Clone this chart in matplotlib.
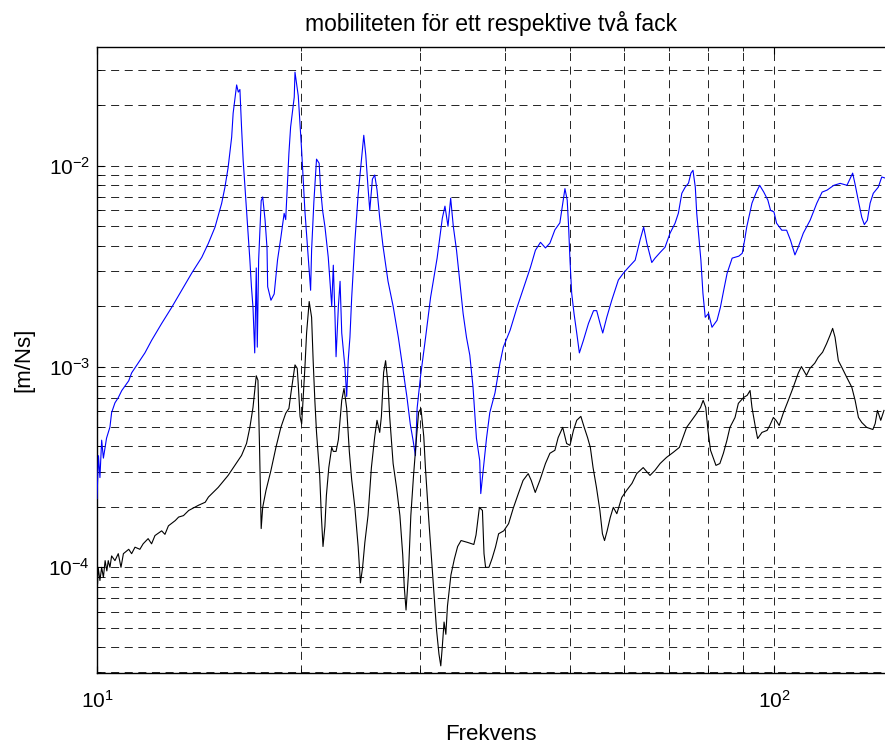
import matplotlib
matplotlib.use("Agg")
import matplotlib.pyplot as plt

plt.rcParams["font.family"] = ["Liberation Sans", "DejaVu Sans"]
plt.rcParams["axes.unicode_minus"] = False
plt.rcParams["lines.scale_dashes"] = False

# mobility, one compartment (blue) -- frequency [Hz], mobility [m/Ns]
freq_blue = [
    10.0, 10.05, 10.1, 10.16, 10.22, 10.33, 10.45, 10.51, 10.63, 10.75,
    10.88, 11.14, 11.25, 11.5, 11.77, 12.04, 12.46, 12.89, 13.34, 13.8,
    14.28, 14.6, 14.94, 15.28, 15.45, 15.62, 15.71, 15.81, 15.89, 16.08,
    16.17, 16.26, 16.35, 16.44, 16.63, 16.72, 16.82, 16.91, 17.0, 17.1,
    17.19, 17.25, 17.33, 17.48, 17.57, 17.71, 17.83, 17.87, 18.07, 18.27,
    18.48, 18.69, 18.9, 19.0, 19.1, 19.21, 19.32, 19.56, 19.61, 19.83,
    20.06, 20.28, 20.51, 20.68, 20.75, 20.91, 21.1, 21.29, 21.4, 21.54,
    21.71, 21.96, 22.09, 22.22, 22.34, 22.47, 22.55, 22.73, 22.86, 22.99,
    23.25, 23.38, 23.5, 23.64, 23.78, 24.04, 24.31, 24.59, 24.78, 24.95,
    25.14, 25.29, 25.52, 25.72, 25.92, 26.16, 26.45, 26.91, 27.38, 27.87,
    28.35, 28.69, 29.03, 29.3, 29.54, 29.71, 30.05, 30.58, 31.1, 31.8,
    32.37, 32.66, 33.0, 33.3, 33.6, 33.97, 34.35, 34.74, 35.14, 35.54,
    35.93, 36.35, 36.76, 36.89, 37.18, 37.62, 38.04, 38.72, 39.38, 39.83,
    40.77, 41.73, 42.69, 43.68, 44.43, 45.2, 45.97, 46.67, 47.47, 48.28,
    48.83, 49.12, 49.5, 49.74, 49.97, 50.26, 50.66, 51.13, 51.59, 52.3,
    53.21, 54.14, 54.72, 55.35, 55.86, 56.63, 57.6, 58.91, 59.92, 60.96,
    62.37, 63.45, 64.2, 64.9, 66.0, 66.74, 67.88, 69.04, 70.23, 71.44,
    72.25, 73.1, 73.94, 74.78, 75.4, 75.93, 76.53, 76.9, 77.37, 78.0,
    78.54, 79.16, 80.06, 81.0, 82.4, 83.34, 84.29, 85.28, 86.75, 88.74,
    89.78, 90.5, 91.15, 92.8, 94.2, 95.27, 96.6, 97.95, 98.86, 100.0,
    100.9, 102.7, 104.4, 105.8, 107.4, 108.6, 110.5, 113.1, 115.7, 117.8,
    119.8, 122.6, 125.3, 128.2, 130.7, 131.7, 133.2, 134.8, 136.0, 137.4,
    138.7, 140.2, 142.6, 144.3, 145.9,
]
mob_blue = [
    2.2e-4, 3.6e-4, 2.8e-4, 4.3e-4, 3.5e-4, 4.4e-4, 5.0e-4, 5.9e-4, 6.6e-4, 7.0e-4,
    7.6e-4, 8.5e-4, 9.3e-4, 1.04e-3, 1.17e-3, 1.35e-3, 1.64e-3, 1.97e-3, 2.4e-3, 2.92e-3,
    3.5e-3, 4.1e-3, 4.95e-3, 6.5e-3, 7.8e-3, 9.8e-3, 1.16e-2, 1.39e-2, 1.83e-2, 2.53e-2,
    2.33e-2, 2.4e-2, 1.56e-2, 1.07e-2, 6.0e-3, 4.6e-3, 3.4e-3, 2.5e-3, 1.97e-3, 1.17e-3,
    3.1e-3, 1.25e-3, 3.4e-3, 6.7e-3, 7.0e-3, 5.4e-3, 3.9e-3, 2.5e-3, 2.14e-3, 2.3e-3,
    3.4e-3, 4.4e-3, 5.8e-3, 5.4e-3, 7.8e-3, 1.16e-2, 1.56e-2, 2.2e-2, 2.93e-2, 2.23e-2,
    1.19e-2, 6.0e-3, 3.5e-3, 2.4e-3, 3.8e-3, 6.6e-3, 1.08e-2, 1.03e-2, 7.6e-3, 6.0e-3,
    5.0e-3, 3.5e-3, 2.66e-3, 2.0e-3, 3.2e-3, 1.76e-3, 1.12e-3, 2.0e-3, 2.66e-3, 1.47e-3,
    9.8e-4, 7.1e-4, 1.07e-3, 1.4e-3, 2.2e-3, 4.2e-3, 7.2e-3, 1.08e-2, 1.42e-2, 1.13e-2,
    7.8e-3, 6.0e-3, 8.6e-3, 9.0e-3, 7.6e-3, 5.5e-3, 4.0e-3, 2.66e-3, 2.0e-3, 1.4e-3,
    9.4e-4, 7.1e-4, 5.15e-4, 4.3e-4, 3.6e-4, 6.2e-4, 8.9e-4, 1.4e-3, 2.21e-3, 3.47e-3,
    5.49e-3, 6.3e-3, 5.0e-3, 6.9e-3, 5.0e-3, 3.8e-3, 2.66e-3, 1.84e-3, 1.4e-3, 1.14e-3,
    7.9e-4, 4.4e-4, 3.4e-4, 2.33e-4, 3.0e-4, 4.4e-4, 5.9e-4, 7.4e-4, 1.04e-3, 1.25e-3,
    1.52e-3, 1.97e-3, 2.48e-3, 3.12e-3, 3.8e-3, 4.16e-3, 3.9e-3, 4.12e-3, 4.8e-3, 5.2e-3,
    6.75e-3, 7.7e-3, 6.75e-3, 4.95e-3, 3.39e-3, 2.32e-3, 1.84e-3, 1.47e-3, 1.17e-3, 1.35e-3,
    1.64e-3, 1.9e-3, 1.9e-3, 1.64e-3, 1.47e-3, 1.76e-3, 2.14e-3, 2.7e-3, 2.92e-3, 3.12e-3,
    3.39e-3, 4.3e-3, 4.95e-3, 4.12e-3, 3.3e-3, 3.47e-3, 3.7e-3, 3.93e-3, 4.62e-3, 5.18e-3,
    5.81e-3, 7.3e-3, 7.83e-3, 8.2e-3, 9.2e-3, 9.5e-3, 7.83e-3, 5.81e-3, 4.62e-3, 3.39e-3,
    2.32e-3, 1.76e-3, 1.84e-3, 1.57e-3, 1.7e-3, 1.97e-3, 2.4e-3, 2.92e-3, 3.47e-3, 3.55e-3,
    3.67e-3, 4.26e-3, 4.95e-3, 6.52e-3, 7.4e-3, 8.0e-3, 7.4e-3, 6.75e-3, 6.0e-3, 5.9e-3,
    5.18e-3, 4.78e-3, 4.78e-3, 4.26e-3, 3.6e-3, 3.93e-3, 4.62e-3, 5.36e-3, 6.52e-3, 7.4e-3,
    7.57e-3, 8.0e-3, 8.18e-3, 8.0e-3, 9.2e-3, 8.18e-3, 6.75e-3, 5.55e-3, 5.1e-3, 5.36e-3,
    6.52e-3, 7.3e-3, 7.83e-3, 8.8e-3, 8.7e-3,
]

# mobility, two compartments (black)
freq_black = [
    10.02, 10.04, 10.1, 10.16, 10.22, 10.28, 10.34, 10.39, 10.45, 10.51,
    10.63, 10.75, 10.85, 10.94, 11.14, 11.25, 11.38, 11.57, 11.7, 11.9,
    12.04, 12.18, 12.46, 12.6, 12.75, 13.05, 13.2, 13.42, 13.66, 14.13,
    14.45, 14.61, 15.1, 15.62, 15.98, 16.35, 16.63, 16.82, 17.0, 17.1,
    17.19, 17.29, 17.38, 17.48, 17.57, 17.77, 18.07, 18.38, 18.69, 19.0,
    19.21, 19.34, 19.61, 19.76, 19.83, 19.95, 20.06, 20.17, 20.28, 20.4,
    20.58, 20.75, 20.86, 20.98, 21.1, 21.33, 21.45, 21.57, 21.71, 21.82,
    22.0, 22.22, 22.34, 22.55, 22.73, 22.99, 23.17, 23.38, 23.59, 23.78,
    24.04, 24.31, 24.5, 24.68, 24.87, 25.14, 25.43, 25.72, 25.92, 26.16,
    26.31, 26.51, 26.69, 26.91, 27.06, 27.38, 27.7, 28.02, 28.29, 28.44,
    28.61, 28.84, 29.08, 29.35, 29.63, 29.86, 30.1, 30.39, 30.56, 30.91,
    31.27, 31.52, 31.74, 32.0, 32.2, 32.37, 32.56, 32.76, 32.94, 33.33,
    33.72, 34.1, 34.5, 35.3, 36.03, 36.3, 36.72, 37.1, 37.3, 37.5,
    37.93, 38.35, 38.78, 39.2, 39.89, 40.55, 41.2, 41.92, 42.6, 43.35,
    43.8, 44.4, 45.1, 45.97, 46.67, 47.47, 48.0, 48.75, 49.4, 49.97,
    50.56, 51.13, 51.85, 52.45, 53.05, 53.55, 54.05, 54.68, 55.32, 55.8,
    56.2, 56.7, 57.3, 57.9, 58.6, 59.6, 60.6, 61.7, 62.7, 64.1,
    65.6, 66.7, 67.9, 69.4, 71.0, 72.5, 74.3, 75.6, 76.9, 77.9,
    78.6, 79.3, 79.9, 80.6, 81.3, 82.1, 83.2, 84.2, 85.2, 86.1,
    87.6, 88.6, 90.2, 91.3, 92.2, 92.8, 93.9, 94.6, 96.0, 97.7,
    98.6, 99.8, 100.7, 101.8, 103.2, 105.0, 106.8, 108.6, 109.8, 111.7,
    113.0, 114.9, 116.2, 118.0, 119.6, 121.0, 122.1, 123.1, 124.5, 126.0,
    128.1, 130.3, 131.8, 133.3, 134.8, 137.1, 140.0, 141.1, 142.2, 143.8,
    145.4,
]
mob_black = [
    8.3e-5, 1.0e-4, 8.6e-5, 1.0e-4, 8.9e-5, 1.08e-4, 9.6e-5, 1.08e-4, 1.0e-4, 1.14e-4,
    1.08e-4, 1.17e-4, 1.0e-4, 1.17e-4, 1.23e-4, 1.17e-4, 1.26e-4, 1.23e-4, 1.31e-4, 1.39e-4,
    1.31e-4, 1.44e-4, 1.52e-4, 1.46e-4, 1.61e-4, 1.71e-4, 1.78e-4, 1.81e-4, 1.92e-4, 2.04e-4,
    2.11e-4, 2.24e-4, 2.5e-4, 2.87e-4, 3.22e-4, 3.61e-4, 4.14e-4, 4.98e-4, 6.26e-4, 7.6e-4,
    9.0e-4, 8.54e-4, 4.05e-4, 1.56e-4, 1.99e-4, 2.42e-4, 3.04e-4, 3.96e-4, 4.98e-4, 5.85e-4,
    6.19e-4, 7.36e-4, 1.02e-3, 9.8e-4, 8.14e-4, 5.65e-4, 5.18e-4, 7.1e-4, 9.8e-4, 1.47e-3,
    2.11e-3, 1.76e-3, 1.07e-3, 6.79e-4, 4.7e-4, 2.87e-4, 1.81e-4, 1.27e-4, 1.6e-4, 2.28e-4,
    3.14e-4, 3.96e-4, 3.78e-4, 3.78e-4, 4.33e-4, 6.79e-4, 7.79e-4, 6.19e-4, 3.78e-4, 2.74e-4,
    1.99e-4, 1.27e-4, 8.37e-5, 1.0e-4, 1.33e-4, 1.81e-4, 3.14e-4, 4.48e-4, 5.4e-4, 4.7e-4,
    5.65e-4, 9.36e-4, 1.07e-3, 8.14e-4, 5.65e-4, 3.29e-4, 2.5e-4, 1.81e-4, 1.155e-4, 7.97e-5,
    6.13e-5, 9.16e-5, 1.81e-4, 2.87e-4, 4.33e-4, 5.92e-4, 6.19e-4, 4.48e-4, 3.14e-4, 1.73e-4,
    1.0e-4, 6.95e-5, 4.87e-5, 3.7e-5, 3.23e-5, 4.05e-5, 5.34e-5, 4.64e-5, 6.42e-5, 9.16e-5,
    1.1e-4, 1.27e-4, 1.36e-4, 1.33e-4, 1.3e-4, 1.45e-4, 1.99e-4, 1.92e-4, 1.17e-4, 1.0e-4,
    1.0e-4, 1.11e-4, 1.26e-4, 1.47e-4, 1.52e-4, 1.65e-4, 1.97e-4, 2.33e-4, 2.71e-4, 2.93e-4,
    2.71e-4, 2.36e-4, 2.71e-4, 3.29e-4, 3.7e-4, 3.83e-4, 4.43e-4, 4.98e-4, 4.14e-4, 4.05e-4,
    4.81e-4, 5.4e-4, 5.65e-4, 4.98e-4, 4.43e-4, 3.96e-4, 3.14e-4, 2.5e-4, 1.92e-4, 1.47e-4,
    1.36e-4, 1.52e-4, 1.77e-4, 1.99e-4, 1.85e-4, 2.23e-4, 2.42e-4, 2.62e-4, 2.93e-4, 3.14e-4,
    2.87e-4, 3.04e-4, 3.29e-4, 3.53e-4, 3.74e-4, 3.96e-4, 4.98e-4, 5.4e-4, 5.85e-4, 6.26e-4,
    6.79e-4, 6.26e-4, 4.81e-4, 3.83e-4, 3.53e-4, 3.22e-4, 3.29e-4, 3.7e-4, 4.28e-4, 4.98e-4,
    5.58e-4, 6.56e-4, 7.02e-4, 7.19e-4, 7.6e-4, 6.26e-4, 4.98e-4, 4.38e-4, 4.7e-4, 4.81e-4,
    5.09e-4, 5.58e-4, 5.4e-4, 5.09e-4, 5.85e-4, 6.79e-4, 7.9e-4, 9.26e-4, 1.0e-3, 9.04e-4,
    9.8e-4, 1.04e-3, 1.11e-3, 1.18e-3, 1.3e-3, 1.43e-3, 1.55e-3, 1.4e-3, 1.07e-3, 9.9e-4,
    8.84e-4, 7.9e-4, 6.79e-4, 5.58e-4, 5.27e-4, 4.98e-4, 4.86e-4, 5.2e-4, 6.05e-4, 5.4e-4,
    6.05e-4,
]

fig = plt.figure(figsize=(8.85, 7.45), dpi=100)
ax = fig.add_axes([0.1096, 0.0962, 0.8904, 0.8411])

ax.loglog(freq_blue, mob_blue, color="#0000ff", lw=0.8, zorder=3)
ax.loglog(freq_black, mob_black, color="k", lw=0.8, zorder=3)

ax.set_xlim(10, 145.9)
ax.set_ylim(2.965e-5, 3.922e-2)

ax.grid(True, which="both", color="k", lw=0.6, ls=(0, (5.8, 4.0)))
ax.set_axisbelow(True)
ax.tick_params(which="both", direction="in", top=True, right=False,
               labelsize=15, color="k")
ax.tick_params(which="major", length=5)
ax.tick_params(which="minor", length=3)
ax.tick_params(axis="x", which="major", pad=12)
ax.tick_params(axis="y", which="major", pad=5)
for side in ("left", "bottom", "top"):
    ax.spines[side].set_linewidth(1.0)
ax.spines["right"].set_visible(False)

ax.set_title("mobiliteten för ett respektive två fack", fontsize=16.5, pad=11)
ax.set_xlabel("Frekvens", fontsize=16, labelpad=9)
ax.set_ylabel("[m/Ns]", fontsize=16, labelpad=10)

fig.savefig("out.png", dpi=100)
